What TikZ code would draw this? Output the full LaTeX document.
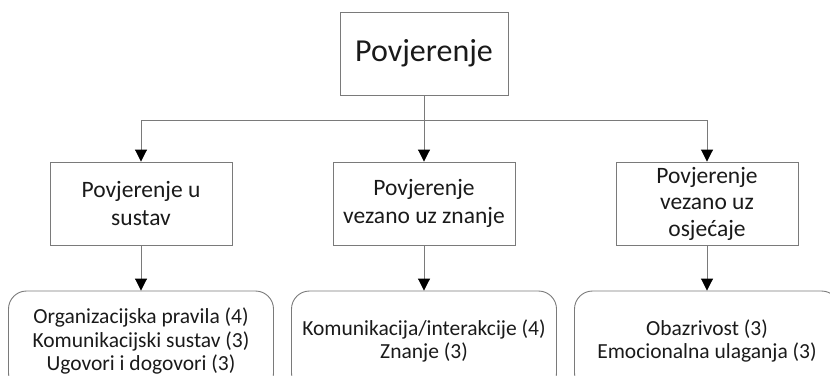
\documentclass[tikz,border=0pt]{standalone}
\usepackage{fontspec}
\setmainfont{Carlito}
\usetikzlibrary{arrows.meta}
\definecolor{txt}{HTML}{1A1A1A}
\definecolor{edge}{HTML}{7A7A7A}
\tikzset{
  topbox/.style={draw=edge, line width=0.9bp, minimum width=168bp, minimum height=83bp, inner sep=0pt,
    text=txt, font=\fontsize{32bp}{38bp}\selectfont},
  midbox/.style={draw=edge, line width=0.9bp, minimum width=182bp, minimum height=83bp, inner sep=0pt,
    text=txt, align=center, font=\fontsize{23.5bp}{28bp}\selectfont},
  leafbox/.style={draw=edge, line width=0.9bp, rounded corners=18bp, minimum width=265bp, minimum height=100bp,
    inner sep=0pt, text=txt, align=center, font=\fontsize{21.5bp}{23.5bp}\selectfont},
  conn/.style={draw=edge, line width=0.9bp},
  arr/.style={conn, -{Triangle[width=12bp,length=12bp,color=black,fill=black]}},
}
\begin{document}
\begin{tikzpicture}[x=1bp,y=-1bp]
\useasboundingbox (0,0) rectangle (830,375);
\node[topbox] (top) at (424,53.5) {Povjerenje};
\node[midbox] (m1) at (141,203.5) {Povjerenje u\\sustav};
\node[midbox] (m2) at (424,203.5) {Povjerenje\\vezano uz znanje};
\node[midbox, font=\fontsize{23.5bp}{26.5bp}\selectfont] (m3) at (707,203.5) {Povjerenje\\vezano uz\\osjećaje};
\node[leafbox] (b1) at (141,341) {Organizacijska pravila (4)\\Komunikacijski sustav (3)\\Ugovori i dogovori (3)};
\node[leafbox] (b2) at (424,341) {Komunikacija/interakcije (4)\\Znanje (3)};
\node[leafbox] (b3) at (707,341) {Obazrivost (3)\\Emocionalna ulaganja (3)};
\coordinate (j) at (424,120);
\draw[conn] (top.south) -- (j);
\draw[arr] (j) -| (m1.north);
\draw[arr] (j) -| (m3.north);
\draw[arr] (j) -- (m2.north);
\draw[arr] (m1.south) -- (b1.north);
\draw[arr] (m2.south) -- (b2.north);
\draw[arr] (m3.south) -- (b3.north);
\end{tikzpicture}
\end{document}
